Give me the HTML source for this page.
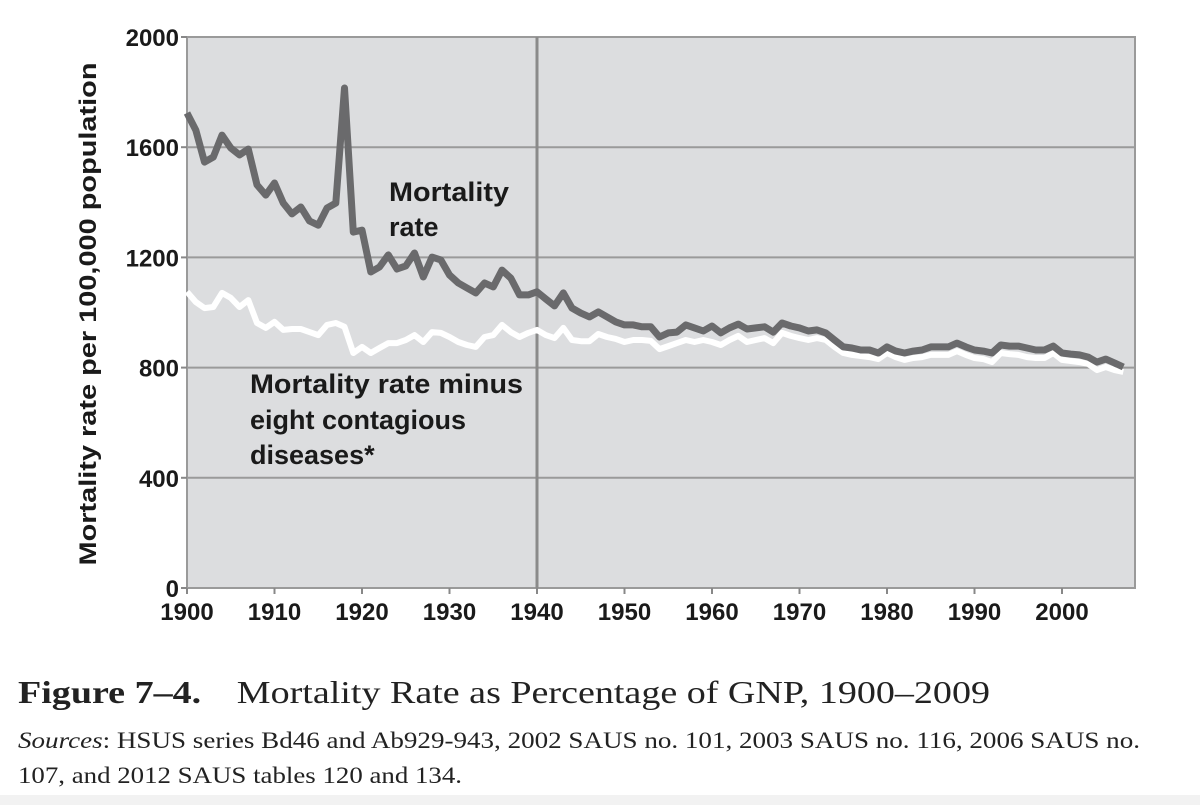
<!DOCTYPE html>
<html><head><meta charset="utf-8">
<style>
html,body{margin:0;padding:0;background:#fff;width:1200px;height:805px;overflow:hidden}
svg{display:block}
.tk{font-family:"Liberation Sans",Arial,sans-serif;font-weight:bold;font-size:24px;fill:#1a1a1a}
.lbl{font-family:"Liberation Sans",Arial,sans-serif;font-weight:bold;font-size:27px;fill:#1a1a1a}
.cap{font-family:"Liberation Serif",serif;fill:#222}
</style></head>
<body>
<svg id="chart" width="1200" height="805">
<rect x="0" y="795" width="1200" height="10" fill="#f2f2f2"/>
<rect x="187" y="37" width="948" height="551" fill="#dcdddf" stroke="#9a9a9a" stroke-width="2"/>
<g id="grid"></g>
<g id="yt"></g>
<g id="xt"></g>
<g id="series"></g>
<text class="tk" transform="translate(96,314) rotate(-90)" text-anchor="middle" textLength="503" lengthAdjust="spacingAndGlyphs">Mortality rate per 100,000 population</text>
<text class="lbl" x="389" y="201" textLength="120" lengthAdjust="spacingAndGlyphs">Mortality</text>
<text class="lbl" x="389" y="236">rate</text>
<text class="lbl" x="250" y="393" textLength="273" lengthAdjust="spacingAndGlyphs">Mortality rate minus</text>
<text class="lbl" x="250" y="429">eight contagious</text>
<text class="lbl" x="250" y="464">diseases*</text>
<text class="cap" x="18" y="703" font-size="32" textLength="972" lengthAdjust="spacingAndGlyphs"><tspan font-weight="bold">Figure 7–4.</tspan><tspan dx="30">Mortality Rate as Percentage of GNP, 1900–2009</tspan></text>
<text class="cap" x="18" y="748" font-size="23" textLength="1122" lengthAdjust="spacingAndGlyphs"><tspan font-style="italic">Sources</tspan>:  HSUS series Bd46 and Ab929-943, 2002 SAUS no. 101, 2003 SAUS no. 116, 2006 SAUS no.</text>
<text class="cap" x="18" y="783" font-size="23" textLength="444" lengthAdjust="spacingAndGlyphs">107, and 2012 SAUS tables 120 and 134.</text>
</svg>
<script>
const startYear = 1900;
const mortality = [1724,1662,1546,1564,1644,1597,1572,1593,1463,1426,1470,1397,1358,1383,1332,1317,1379,1397,1815,1292,1299,1147,1165,1209,1158,1169,1216,1129,1201,1191,1136,1107,1089,1071,1107,1093,1154,1125,1064,1064,1075,1049,1024,1071,1016,998,984,1002,984,966,955,955,948,948,911,926,929,955,944,933,951,926,944,958,940,944,948,929,962,951,944,933,937,926,900,875,871,864,864,853,875,860,853,860,864,875,875,875,889,875,864,860,853,882,878,878,871,864,864,878,853,849,846,838,820,831,817,802];
const minusContagious = [1075,1038,1016,1020,1071,1053,1020,1045,962,944,966,937,940,940,929,918,955,962,948,853,875,853,871,889,889,900,918,893,929,926,911,893,882,875,911,918,955,929,911,926,937,918,907,944,900,896,896,922,911,904,893,900,900,897,867,878,889,900,893,900,893,882,900,915,893,900,907,889,926,915,907,900,907,900,875,853,846,842,838,831,853,838,828,835,838,846,846,846,860,846,835,831,820,853,849,846,838,835,835,853,828,824,820,813,791,802,791,784];
const yTicks = [0,400,800,1200,1600,2000];
const xTicks = [1900,1910,1920,1930,1940,1950,1960,1970,1980,1990,2000];
const NS='http://www.w3.org/2000/svg';
const X0=187,Y0=588,Y1=37,pxYear=8.75;
function xs(yr){return X0+(yr-1900)*pxYear;}
function ys(v){return Y0-(v/2000)*(Y0-Y1);}
function mk(tag,attrs,parent){const e=document.createElementNS(NS,tag);for(const k in attrs)e.setAttribute(k,attrs[k]);parent.appendChild(e);return e;}
const grid=document.getElementById('grid'),yt=document.getElementById('yt'),xt=document.getElementById('xt'),ser=document.getElementById('series');
yTicks.forEach(v=>{
  if(v>0&&v<2000){const l=mk('line',{x1:X0,x2:1135,y1:ys(v),y2:ys(v),stroke:'#9a9a9a','stroke-width':2},grid);
  
  }
  const t=mk('line',{x1:X0-6,x2:X0,y1:ys(v),y2:ys(v),stroke:'#888','stroke-width':2},yt);
  
  
  const tx=mk('text',{x:X0-8,y:ys(v)+9,'text-anchor':'end',class:'tk'},yt);tx.textContent=v;
  
  
});
const vl=mk('line',{x1:xs(1940),x2:xs(1940),y1:Y1,y2:Y0,stroke:'#8a8a8a','stroke-width':3},grid);


xTicks.forEach(yr=>{
  const t=mk('line',{x1:xs(yr),x2:xs(yr),y1:Y0,y2:Y0+6,stroke:'#888','stroke-width':2},xt);
  
  
  const tx=mk('text',{x:xs(yr),y:Y0+32,'text-anchor':'middle',class:'tk'},xt);tx.textContent=yr;
  
  
});
function pts(arr){return arr.map((v,i)=>xs(startYear+i).toFixed(1)+','+ys(v).toFixed(1)).join(' ');}
const w=mk('polyline',{points:pts(minusContagious),fill:'none',stroke:'#ffffff','stroke-width':6,'stroke-linejoin':'round'},ser);


const d=mk('polyline',{points:pts(mortality),fill:'none',stroke:'#6a6a6c','stroke-width':7,'stroke-linejoin':'round'},ser);


</script>
</body></html>
